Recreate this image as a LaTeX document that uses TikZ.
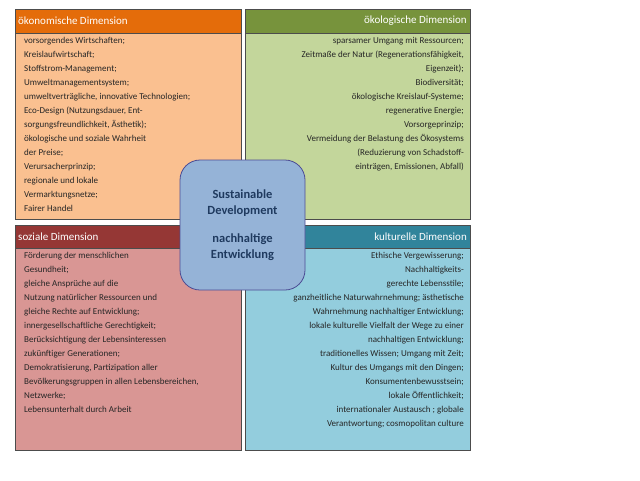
\documentclass[tikz,border=0pt]{standalone}
\usepackage{fontspec}
\setmainfont{Carlito}
\begin{document}
\begin{tikzpicture}[x=1pt,y=-1pt,
  body/.style={draw=black!70,line width=0.6pt},
  head/.style={draw=black!70,line width=0.6pt},
  htext/.style={text=white,font=\fontsize{11}{13}\selectfont,inner sep=0pt},
  btext/.style={font=\fontsize{9}{14}\selectfont,inner sep=0pt,text=black!85},
  center/.style={draw=blue!40!black!70,fill=cblue,rounded corners=20pt,line width=0.8pt,
    minimum width=125pt,minimum height=130pt,align=center,text=ctext,
    font=\bfseries\fontsize{12.5}{16}\selectfont}]
\definecolor{orH}{HTML}{E46C0A}\definecolor{orB}{HTML}{FAC090}
\definecolor{grH}{HTML}{77933C}\definecolor{grB}{HTML}{C3D69B}
\definecolor{reH}{HTML}{953735}\definecolor{reB}{HTML}{D99694}
\definecolor{blH}{HTML}{31849B}\definecolor{blB}{HTML}{93CDDD}
\definecolor{cblue}{HTML}{95B3D7}\definecolor{ctext}{HTML}{1F3A5F}
\useasboundingbox (0,0) rectangle (640,480);
% top left
\fill[orB] (15,9) rectangle (241,219);
\fill[orH] (15,9) rectangle (241,33);
\draw[body] (15,9) rectangle (241,219); \draw[head] (15,33) -- (241,33);
\node[htext,anchor=west] (hTL) at (18,21) {ökonomische Dimension};
\node[btext,anchor=north west,align=left] (tTL) at (24,37) {vorsorgendes Wirtschaften;\\Kreislaufwirtschaft;\\Stoffstrom-Management;\\Umweltmanagementsystem;\\umweltverträgliche, innovative Technologien;\\Eco-Design (Nutzungsdauer, Ent-\\sorgungsfreundlichkeit, Ästhetik);\\ökologische und soziale Wahrheit\\der Preise;\\Verursacherprinzip;\\regionale und lokale\\Vermarktungsnetze;\\Fairer Handel};
% top right
\fill[grB] (245,9) rectangle (470,219);
\fill[grH] (245,9) rectangle (470,33);
\draw[body] (245,9) rectangle (470,219); \draw[head] (245,33) -- (470,33);
\node[htext,anchor=east] (hTR) at (467,21) {ökologische Dimension};
\node[btext,anchor=north east,align=right] (tTR) at (464,37) {sparsamer Umgang mit Ressourcen;\\Zeitmaße der Natur (Regenerationsfähigkeit,\\Eigenzeit);\\Biodiversität;\\ökologische Kreislauf-Systeme;\\regenerative Energie;\\Vorsorgeprinzip;\\Vermeidung der Belastung des Ökosystems\\(Reduzierung von Schadstoff-\\einträgen, Emissionen, Abfall)};
% bottom left
\fill[reB] (15,225) rectangle (241,450);
\fill[reH] (15,225) rectangle (241,248);
\draw[body] (15,225) rectangle (241,450); \draw[head] (15,248) -- (241,248);
\node[htext,anchor=west] (hBL) at (18,237) {soziale Dimension};
\node[btext,anchor=north west,align=left] (tBL) at (24,252) {Förderung der menschlichen\\Gesundheit;\\gleiche Ansprüche auf die\\Nutzung natürlicher Ressourcen und\\gleiche Rechte auf Entwicklung;\\innergesellschaftliche Gerechtigkeit;\\Berücksichtigung der Lebensinteressen\\zukünftiger Generationen;\\Demokratisierung, Partizipation aller\\Bevölkerungsgruppen in allen Lebensbereichen,\\Netzwerke;\\Lebensunterhalt durch Arbeit};
% bottom right
\fill[blB] (245,225) rectangle (470,450);
\fill[blH] (245,225) rectangle (470,248);
\draw[body] (245,225) rectangle (470,450); \draw[head] (245,248) -- (470,248);
\node[htext,anchor=east] (hBR) at (467,237) {kulturelle Dimension};
\node[btext,anchor=north east,align=right] (tBR) at (464,252) {Ethische Vergewisserung;\\Nachhaltigkeits-\\gerechte Lebensstile;\\ganzheitliche Naturwahrnehmung; ästhetische\\Wahrnehmung nachhaltiger Entwicklung;\\lokale kulturelle Vielfalt der Wege zu einer\\nachhaltigen Entwicklung;\\traditionelles Wissen; Umgang mit Zeit;\\Kultur des Umgangs mit den Dingen;\\Konsumentenbewusstsein;\\lokale Öffentlichkeit;\\internationaler Austausch ; globale\\Verantwortung; cosmopolitan culture};
% center
\node[center] (c) at (242.5,225) {Sustainable\\Development\\[12pt]nachhaltige\\Entwicklung};
\end{tikzpicture}
\end{document}
